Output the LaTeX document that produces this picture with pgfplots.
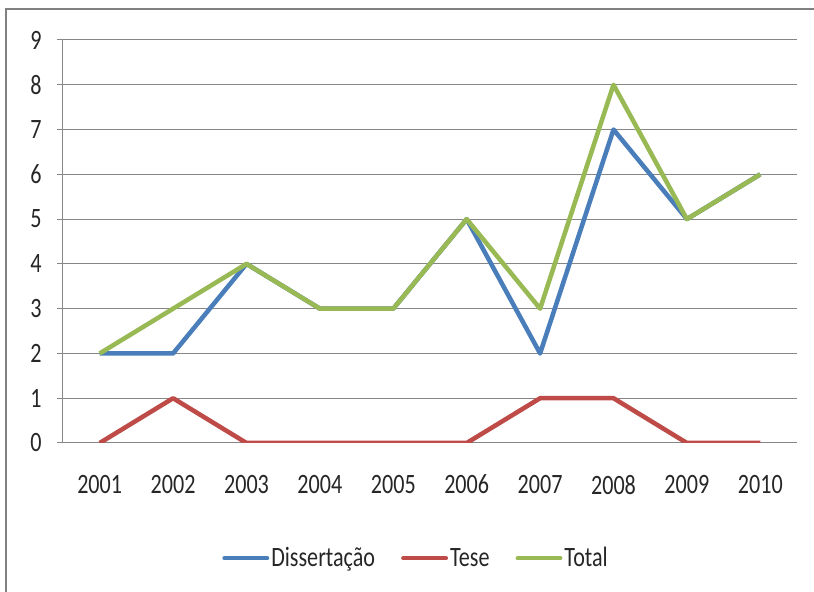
\documentclass[border=0pt]{standalone}
\usepackage{fontspec}
\setmainfont{Carlito}[FakeStretch=0.79]
\usepackage{pgfplots}
\pgfplotsset{compat=1.18}

\definecolor{serieA}{RGB}{74,126,187}
\definecolor{serieB}{RGB}{190,75,72}
\definecolor{serieC}{RGB}{152,185,84}
\definecolor{eixo}{RGB}{134,134,134}
\definecolor{moldura}{RGB}{128,128,128}

\begin{document}
\begin{tikzpicture}
\useasboundingbox (-47.25pt,-111.75pt) rectangle (563.25pt,332.25pt);
\draw[moldura, line width=1.5pt] (-42.75pt,-112pt) -- (-42.75pt,325.5pt) -- (564pt,325.5pt);
\begin{axis}[
  at={(0,0)}, anchor=south west,
  scale only axis, width=550.5pt, height=302.25pt,
  xmin=0.5, xmax=10.5, ymin=0, ymax=9,
  axis x line=bottom, axis y line=left,
  axis line style={eixo, line width=0.75pt, -},
  ymajorgrids, grid style={eixo, line width=0.75pt},
  ytick={0,...,9},
  xtick={1,...,10},
  xticklabels={2001,2002,2003,2004,2005,2006,2007,2008,2009,2010},
  xtick style={draw=none},
  extra x ticks={0.5,1.5,...,10.5},
  extra x tick labels={},
  extra x tick style={major tick length=6.75pt, tick align=outside, tick style={eixo, line width=0.75pt}},
  tick align=outside, major tick length=4.5pt,
  ytick style={eixo, line width=0.75pt},
  /pgf/number format/assume math mode=true,
  ticklabel style={font=\fontsize{21}{25}\selectfont, text=black!85},
  yticklabel style={xshift=-8pt},
  xticklabel style={yshift=-16pt},
  legend style={at={(0.481,-0.286)}, anchor=center, draw=none, fill=none,
    legend columns=3, font=\fontsize{21}{25}\selectfont, text=black!85,
    /tikz/every even column/.append style={column sep=18pt},
    nodes={inner sep=1.5pt}},
  legend image code/.code={\draw[#1, line width=3.2pt, line cap=round] (0pt,0pt) -- (32pt,0pt);},
  every axis plot/.append style={line width=3.4pt, line join=round},
]
\addplot[serieA] coordinates {(1,2) (2,2) (3,4) (4,3) (5,3) (6,5) (7,2) (8,7) (9,5) (10,6)};
\addlegendentry{Dissertação}
\addplot[serieB] coordinates {(1,0) (2,1) (3,0) (4,0) (5,0) (6,0) (7,1) (8,1) (9,0) (10,0)};
\addlegendentry{Tese}
\addplot[serieC] coordinates {(1,2) (2,3) (3,4) (4,3) (5,3) (6,5) (7,3) (8,8) (9,5) (10,6)};
\addlegendentry{Total}
\end{axis}
\end{tikzpicture}
\end{document}
